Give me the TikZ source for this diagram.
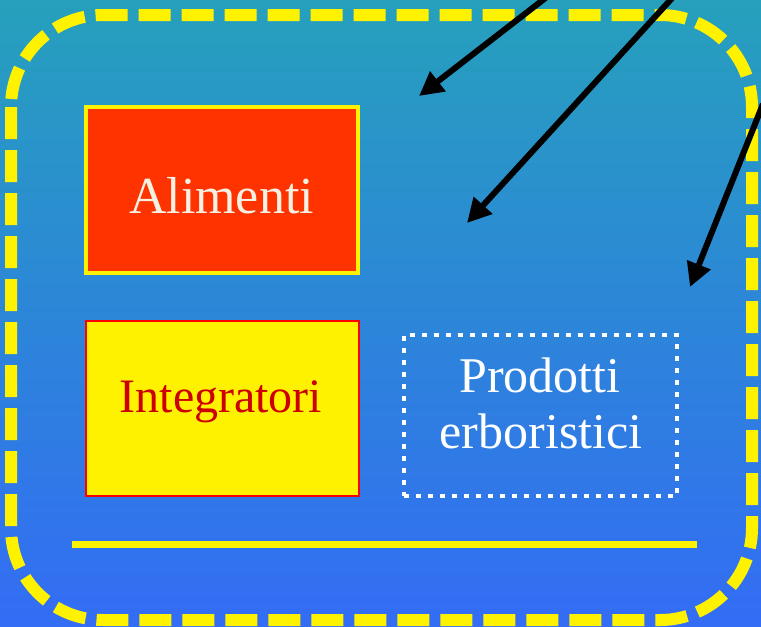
\documentclass[tikz,border=0pt]{standalone}
\usepackage{fontspec}
\setmainfont{Liberation Serif}
\usetikzlibrary{arrows.meta}
\definecolor{bgtop}{RGB}{38,160,188}
\definecolor{bgbot}{RGB}{51,108,245}
\definecolor{boxred}{RGB}{255,51,0}
\definecolor{txtred}{RGB}{204,0,0}
\definecolor{cream}{RGB}{245,240,225}
\tikzset{
  px/.style={x=1pt,y=-1pt},
  frame/.style={draw=yellow,line width=12pt,dash pattern=on 32pt off 11pt,rounded corners=92pt},
  boxA/.style={draw=yellow,line width=4pt,fill=boxred,minimum width=272pt,minimum height=166pt,inner sep=0pt},
  boxI/.style={draw=red,line width=2pt,fill=yellow,minimum width=273pt,minimum height=175pt,inner sep=0pt},
  boxP/.style={draw=white,line width=4.5pt,dash pattern=on 5pt off 7pt,minimum width=273pt,minimum height=161pt,inner sep=0pt},
  lbl/.style={anchor=base,inner sep=0pt,font=\fontsize{50}{56}\selectfont},
  arr/.style={draw=black,line width=6pt,-{Triangle[length=24pt,width=24pt]}},
  rule/.style={draw=yellow,line width=7pt}
}
\begin{document}
\begin{tikzpicture}[px]
\shade[top color=bgtop,bottom color=bgbot] (0,0) rectangle (761,627);
\useasboundingbox (0,0) rectangle (761,627);
\draw[frame] (11,15) rectangle (752,620);
\node[boxA] (alim) at (221.5,189.5) {};
\node[boxI] (integ) at (222,408) {};
\node[boxP] (prod) at (540.5,415.5) {};
\node[lbl,text=cream,font=\fontsize{52}{56}\selectfont] (talim) at (221.5,213) {Alimenti};
\node[lbl,text=txtred,font=\fontsize{48}{56}\selectfont] (tinteg) at (221,412) {Integratori};
\node[lbl,text=white] (tprod1) at (540,392) {Prodotti};
\node[lbl,text=white] (tprod2) at (541,448) {erboristici};
\coordinate (l1) at (72,544);
\coordinate (l2) at (697,544);
\draw[rule] (l1) -- (l2);
\coordinate (s1) at (548,-4);
\coordinate (t1) at (419,96);
\coordinate (s2) at (674,-4);
\coordinate (t2) at (467,223);
\coordinate (s3) at (763,104);
\coordinate (t3) at (690,287);
\draw[arr] (s1) -- (t1);
\draw[arr] (s2) -- (t2);
\draw[arr] (s3) -- (t3);
\end{tikzpicture}
\end{document}
